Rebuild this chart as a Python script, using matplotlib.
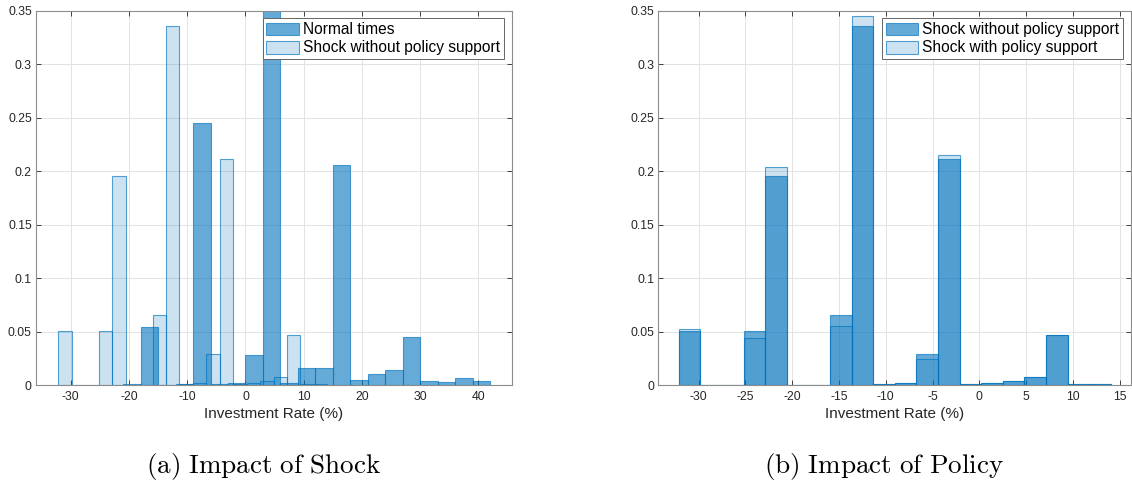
import numpy as np
import matplotlib
matplotlib.use("Agg")
import matplotlib.pyplot as plt
from matplotlib.patches import Patch

# ---------------- data ----------------
normal_edges = np.arange(-21, 43, 3)  # 3-point bins
normal_vals = [0.0005, 0.0538, 0.0, 0.001, 0.245, 0.001, 0.002, 0.0283, 0.38,
               0.002, 0.0162, 0.0162, 0.2057, 0.0047, 0.010, 0.0143, 0.0451,
               0.0037, 0.0025, 0.0065, 0.0037]

shock_edges = np.linspace(-32.1, 14.05, 21)
shock_nopolicy = [0.0501, 0.0, 0.0, 0.0508, 0.1955, 0.0003, 0.0003, 0.0655,
                  0.3355, 0.001, 0.002, 0.0293, 0.2114, 0.001, 0.0015, 0.0035,
                  0.0072, 0.0467, 0.001, 0.0005]
shock_policy = [0.052, 0.0, 0.0, 0.0442, 0.2039, 0.0003, 0.0003, 0.0551,
                0.3452, 0.001, 0.002, 0.024, 0.215, 0.001, 0.0015, 0.0035,
                0.0075, 0.0467, 0.001, 0.0005]

left_labels = ["Normal times", "Shock without policy support"]
right_labels = ["Shock without policy support", "Shock with policy support"]
captions = ["(a) Impact of Shock", "(b) Impact of Policy"]
xlabel = "Investment Rate (%)"
left_xticks = [-30, -20, -10, 0, 10, 20, 30, 40]
right_xticks = [-30, -25, -20, -15, -10, -5, 0, 5, 10, 15]
yticks = [0, 0.05, 0.1, 0.15, 0.2, 0.25, 0.3, 0.35]
ytick_labels = ["0", "0.05", "0.1", "0.15", "0.2", "0.25", "0.3", "0.35"]

# ---------------- style ----------------
plt.rcParams['font.family'] = ['Liberation Sans', 'DejaVu Sans']
plt.rcParams['axes.unicode_minus'] = False
plt.rcParams['mathtext.fontset'] = 'cm'

blue = (0.0, 0.447, 0.741)
dark_face = blue + (0.6,)
light_face = blue + (0.2,)
edge = blue + (0.65,)
txtc = (0.15, 0.15, 0.15)

W, H = 1132, 483
fig = plt.figure(figsize=(W / 100, H / 100), dpi=100)

def px_axes(x0, x1, ytop, ybot):
    return fig.add_axes([x0 / W, (H - ybot) / H, (x1 - x0) / W, (ybot - ytop) / H])

ax1 = px_axes(36, 511.7, 10.7, 385)
ax2 = px_axes(658.3, 1131, 10.7, 385)


def hist(ax, edges, vals, face):
    edges = np.asarray(edges)
    ax.bar(edges[:-1], vals, width=np.diff(edges), align='edge',
           facecolor=face, edgecolor=edge, linewidth=0.8, zorder=2)


hist(ax1, normal_edges, normal_vals, dark_face)
hist(ax1, shock_edges, shock_nopolicy, light_face)
hist(ax2, shock_edges, shock_nopolicy, dark_face)
hist(ax2, shock_edges, shock_policy, light_face)

for ax, xt, xl, labels in [(ax1, left_xticks, (-35.96, 45.7), left_labels),
                           (ax2, right_xticks, (-34.3, 16.2), right_labels)]:
    ax.set_xlim(*xl)
    ax.set_ylim(0, 0.35)
    ax.set_xticks(xt)
    ax.set_xticklabels([str(v) for v in xt])
    ax.set_yticks(yticks)
    ax.set_yticklabels(ytick_labels)
    ax.set_axisbelow(True)
    ax.grid(True, color=(0.89, 0.89, 0.89), linewidth=0.7)
    ax.tick_params(direction='in', length=3.5, width=0.6, colors=txtc,
                   labelsize=8.8, top=True, right=True, pad=3)
    ax.tick_params(axis='x', pad=4.5)
    for s in ax.spines.values():
        s.set_color((0.55, 0.55, 0.55))
        s.set_linewidth(0.8)
    ax.set_xlabel(xlabel, fontsize=11, color=txtc, labelpad=3)
    handles = [Patch(facecolor=dark_face, edgecolor=edge, linewidth=0.8),
               Patch(facecolor=light_face, edgecolor=edge, linewidth=0.8)]
    leg = ax.legend(handles, labels, loc='upper right', fontsize=11.2,
                    frameon=True, fancybox=False, framealpha=1,
                    edgecolor=(0.4, 0.4, 0.4), borderpad=0.25,
                    handlelength=2.1, handleheight=0.9, handletextpad=0.25,
                    labelspacing=0.2, borderaxespad=0.5)
    leg.get_frame().set_linewidth(0.7)

fig.text(264 / W, (H - 466) / H, r'$\mathrm{(a)\ Impact\ of\ Shock}$',
         ha='center', va='center', fontsize=19.5, color='black')
fig.text(884 / W, (H - 466) / H, r'$\mathrm{(b)\ Impact\ of\ Policy}$',
         ha='center', va='center', fontsize=19.5, color='black')

fig.savefig('out.png', dpi=100)
